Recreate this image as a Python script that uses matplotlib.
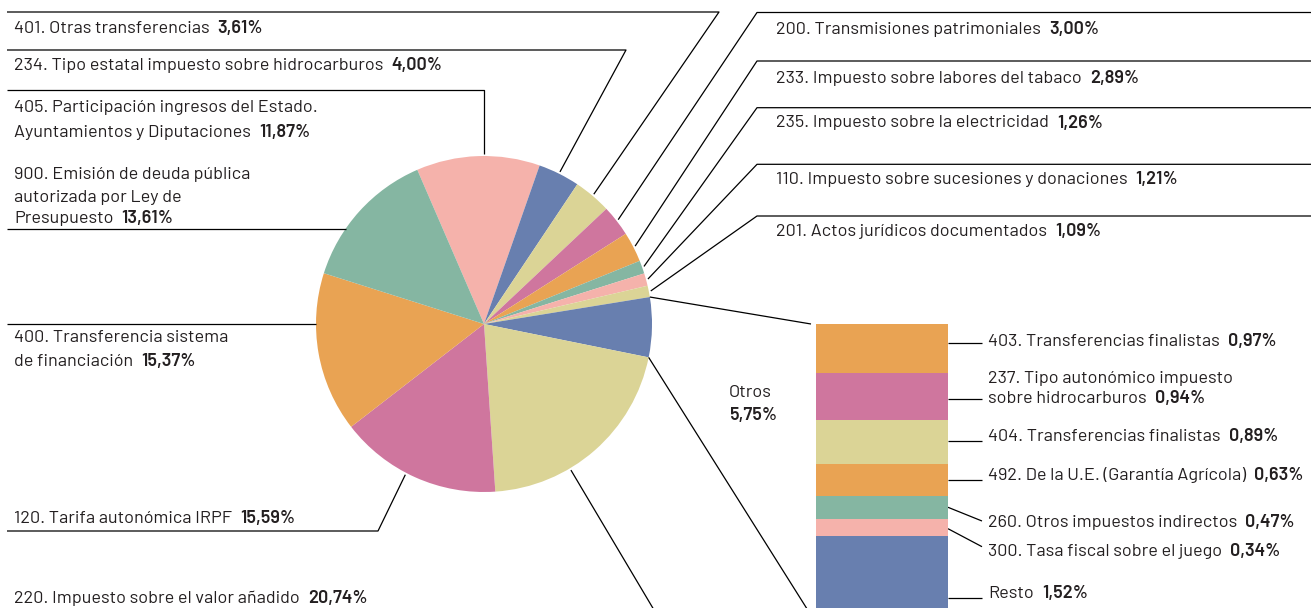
import numpy as np
import matplotlib.pyplot as plt

W, H = 1311, 608

PINK = '#F5B2AB'
BLUE = '#687FAF'
YELLOW = '#DBD496'
MAUVE = '#CF769E'
ORANGE = '#E9A353'
GREEN = '#85B6A2'

# slices, clockwise starting at the top
pie_names = ['405. Participación ingresos del Estado.\nAyuntamientos y Diputaciones',
             '234. Tipo estatal impuesto sobre hidrocarburos',
             '401. Otras transferencias',
             '200. Transmisiones patrimoniales',
             '233. Impuesto sobre labores del tabaco',
             '235. Impuesto sobre la electricidad',
             '110. Impuesto sobre sucesiones y donaciones',
             '201. Actos jurídicos documentados',
             'Otros',
             '220. Impuesto sobre el valor añadido',
             '120. Tarifa autonómica IRPF',
             '400. Transferencia sistema\nde financiación',
             '900. Emisión de deuda pública\nautorizada por Ley de\nPresupuesto']
pie_values = [11.87, 4.00, 3.61, 3.00, 2.89, 1.26, 1.21, 1.09, 5.75, 20.74, 15.59, 15.37, 13.61]
pie_colors = [PINK, BLUE, YELLOW, MAUVE, ORANGE, GREEN, PINK, YELLOW, BLUE, YELLOW, MAUVE, ORANGE, GREEN]

# breakdown of "Otros", top to bottom
otros_names = ['403. Transferencias finalistas',
               '237. Tipo autonómico impuesto\nsobre hidrocarburos',
               '404. Transferencias finalistas',
               '492. De la U.E. (Garantía Agrícola)',
               '260. Otros impuestos indirectos',
               '300. Tasa fiscal sobre el juego',
               'Resto']
otros_values = [0.97, 0.94, 0.89, 0.63, 0.47, 0.34, 1.52]
otros_colors = [ORANGE, MAUVE, YELLOW, ORANGE, GREEN, PINK, BLUE]

FONT = ['Barlow', 'Barlow Semi Condensed', 'DejaVu Sans']
FS = 13
LW = 0.9
TXT = '#231F20'

def pct(v):
    return ('%.2f' % v).replace('.', ',') + '%'

def Y(y):
    # layout numbers are pixels from the top
    return H - y

fig = plt.figure(figsize=(W / 100, H / 100), dpi=100)
ax = fig.add_axes([0, 0, 1, 1])

CX, CY, R = 484, 324, 168
wedges, _ = ax.pie(pie_values, colors=pie_colors, startangle=113.4, counterclock=False,
                   center=(CX, Y(CY)), radius=R, wedgeprops=dict(linewidth=0))
ax.set_xlim(0, W)
ax.set_ylim(0, H)
ax.set_aspect('equal')
ax.axis('off')

def edge_point(w, frac, r):
    a = np.radians(w.theta2 - frac * (w.theta2 - w.theta1))
    return CX + r * np.cos(a), CY - r * np.sin(a)

renderer = fig.canvas.get_renderer()

def label(x, ys, name, value):
    lines = name.split('\n')
    for i, (s, yb) in enumerate(zip(lines, ys)):
        t = ax.text(x, Y(yb), s, fontsize=FS, family=FONT, va='baseline', ha='left', color=TXT)
        if i == len(lines) - 1:
            wpx = t.get_window_extent(renderer=renderer).width
            ax.text(x + wpx + 8, Y(yb), pct(value), fontsize=FS, family=FONT, fontweight=600,
                    va='baseline', ha='left', color=TXT)

def leader(pts):
    xs, ys = [], []
    for px, py in pts:
        xs.append(xs[-1] if px is None else px)
        ys.append(ys[-1] if py is None else py)
    ax.plot(xs, [Y(v) for v in ys], color='black', lw=LW, solid_capstyle='butt')

# text x, baselines, position in slice, leader bends
pie_layout = {
    0: (14, [111.7, 136.7], 0.55, [(None, 89.5), (7, 89.5)]),
    1: (14, [70], 0.5, [(626, 50), (7, 50)]),
    2: (14, [33.3], 0.5, [(719, 12), (7, 12)]),
    3: (776, [34], 0.5, [(757, 12.5), (W, 12.5)]),
    4: (776, [83.3], 0.5, [(757, 61), (W, 61)]),
    5: (776, [127.5], 0.5, [(757, 107.7), (W, 107.7)]),
    6: (776, [184], 0.5, [(757, 164.3), (W, 164.3)]),
    7: (776, [236], 0.5, [(757, 216), (W, 216)]),
    9: (14, [603], 0.64, [(657, 615), (7, 615)]),
    10: (14, [522.7], 0.56, [(378, 531), (7, 531)]),
    11: (14, [341.7, 366], 0.68, [(7, None)]),
    12: (14, [179.3, 201.7, 222.7], 0.345, [(7, None)]),
}
for i, (tx, ys, frac, bends) in pie_layout.items():
    r = R if bends[0][1] is None else R + 2
    p0 = edge_point(wedges[i], frac, r)
    leader([p0] + bends)
    label(tx, ys, pie_names[i], pie_values[i])

# stacked bar for "Otros"
BX0, BX1, BTOP = 816, 948, 324
BSCALE = 50  # px per percent
total = sum(otros_values)
ax2 = fig.add_axes([BX0 / W, Y(BTOP + total * BSCALE) / H, (BX1 - BX0) / W, total * BSCALE / H])
bottoms = np.concatenate([[0], np.cumsum(otros_values)[:-1]])
ax2.bar(0, otros_values, bottom=bottoms, width=1, color=otros_colors, linewidth=0)
ax2.set_xlim(-0.5, 0.5)
ax2.set_ylim(total, 0)
ax2.axis('off')

# connectors pie -> bar
otros = wedges[8]
leader([edge_point(otros, 0, R), (BX0 - 5, BTOP)])
leader([edge_point(otros, 1, R), (BX0 - 7, BTOP + total * BSCALE)])

ax.text(729, Y(396.7), 'Otros', fontsize=FS, family=FONT, va='baseline', ha='left', color=TXT)
ax.text(729, Y(420), pct(pie_values[8]), fontsize=FS, family=FONT, fontweight=600,
        va='baseline', ha='left', color=TXT)

bar_layout = [
    ([345.7], [(948, 342.7), (982, 342.7)]),
    ([383.3, 403.3], [(948, 399.3), (982, 399.3)]),
    ([440.7], [(948, 441.3), (982, 441.3)]),
    ([480], [(948, 480.3), (982, 480.3)]),
    ([526.7], [(948, 507.3), (982, 521)]),
    ([556], [(948, 528.7), (982, 546.7)]),
    ([597.7], [(948, 598.3), (982, 598.3)]),
]
for name, v, (ys, pts) in zip(otros_names, otros_values, bar_layout):
    leader(pts)
    label(988, ys, name, v)

fig.savefig('out.png', dpi=100)
